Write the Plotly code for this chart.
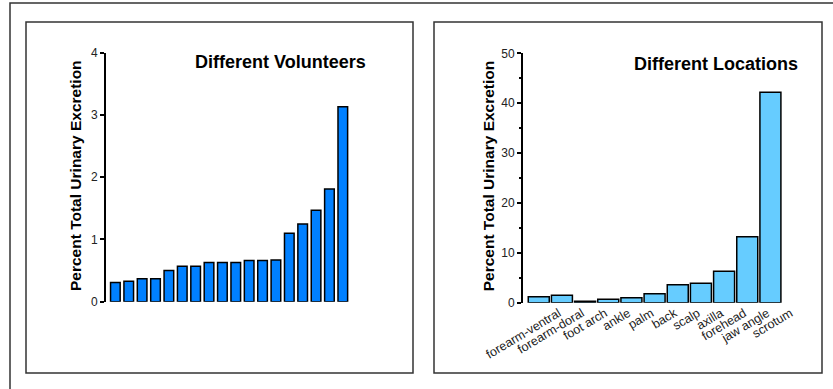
import plotly.graph_objects as go

W, H = 833, 389

# Percent of total urinary excretion, one bar per volunteer (sorted)
volunteers = [f"V{i}" for i in range(1, 19)]
volunteer_pct = [0.31, 0.33, 0.37, 0.37, 0.50, 0.57, 0.57, 0.63, 0.63,
                 0.63, 0.66, 0.66, 0.67, 1.10, 1.25, 1.47, 1.81, 3.13]

# Percent of total urinary excretion by application site
locations = ["forearm-ventral", "forearm-doral", "foot arch", "ankle", "palm",
             "back", "scalp", "axilla", "forehead", "jaw angle", "scrotum"]
location_pct = [1.2, 1.5, 0.3, 0.7, 1.0, 1.8, 3.6, 3.9, 6.3, 13.2, 42.2]

FONT = "Liberation Sans, Arial, sans-serif"


def px_x(x):
    return x / W


def px_y(y):
    return (H - y) / H


fig = go.Figure()

fig.add_trace(go.Bar(
    x=volunteers, y=volunteer_pct, xaxis="x", yaxis="y",
    marker=dict(color="#0080FF", line=dict(color="black", width=1.5)),
    showlegend=False,
))
fig.add_trace(go.Bar(
    x=locations, y=location_pct, xaxis="x2", yaxis="y2", width=0.906,
    marker=dict(color="#66CCFF", line=dict(color="black", width=1.5)),
    showlegend=False,
))

yaxis_common = dict(
    showline=True, linecolor="black", linewidth=2,
    ticks="outside", ticklen=4, tickwidth=1.5, tickcolor="black",
    showgrid=False, zeroline=False, automargin=False,
    tickfont=dict(family=FONT, size=12, color="#222"),
)

fig.update_layout(
    width=W, height=H, autosize=False,
    margin=dict(l=0, r=0, t=0, b=0, pad=0),
    paper_bgcolor="white", plot_bgcolor="white",
    bargap=0.28,
    xaxis=dict(domain=[px_x(106), px_x(349.5)], range=[-0.7, 17.5],
               showticklabels=False, ticks="", showline=False,
               showgrid=False, zeroline=False, anchor="y", automargin=False),
    yaxis=dict(domain=[px_y(301.7), px_y(52.7)], range=[0, 4],
               tickvals=[0, 1, 2, 3, 4], anchor="x", **yaxis_common),
    xaxis2=dict(domain=[px_x(523), px_x(782)], range=[-0.68, 10.5],
                showline=False, showgrid=False, zeroline=False, ticks="",
                tickangle=-31, ticklabelshift=20, anchor="y2",
                automargin=False,
                tickfont=dict(family=FONT, size=12.5, color="#222")),
    yaxis2=dict(domain=[px_y(302.7), px_y(53.3)], range=[0, 50],
                tickvals=[0, 10, 20, 30, 40, 50], anchor="x2",
                minor=dict(ticks="outside", ticklen=2, tickwidth=1.5,
                           tickcolor="black", tickvals=[5, 15, 25, 35, 45]),
                **yaxis_common),
)

# Outer frame and the two panel frames
frame = dict(type="rect", xref="paper", yref="paper",
             line=dict(color="#333", width=1.5), fillcolor="rgba(0,0,0,0)",
             layer="below")
fig.add_shape(x0=px_x(10), x1=px_x(850), y0=px_y(3), y1=px_y(400), **frame)
fig.add_shape(x0=px_x(26), x1=px_x(413), y0=px_y(22), y1=px_y(373), **frame)
fig.add_shape(x0=px_x(434), x1=px_x(822), y0=px_y(22), y1=px_y(373), **frame)

ytitle = "Percent Total Urinary Excretion"
for xc in (75.5, 488.8):
    fig.add_annotation(
        text=f"<b>{ytitle}</b>", xref="paper", yref="paper",
        x=px_x(xc), y=px_y(175.5), xanchor="center", yanchor="middle",
        textangle=-90, showarrow=False,
        font=dict(family=FONT, size=15.5, color="black"),
    )

for txt, xc, yc in (("Different Volunteers", 280.5, 61.7),
                    ("Different Locations", 716, 64)):
    fig.add_annotation(
        text=f"<b>{txt}</b>", xref="paper", yref="paper",
        x=px_x(xc), y=px_y(yc), xanchor="center", yanchor="middle",
        showarrow=False, font=dict(family=FONT, size=18, color="black"),
    )

fig.write_html("out.html")
